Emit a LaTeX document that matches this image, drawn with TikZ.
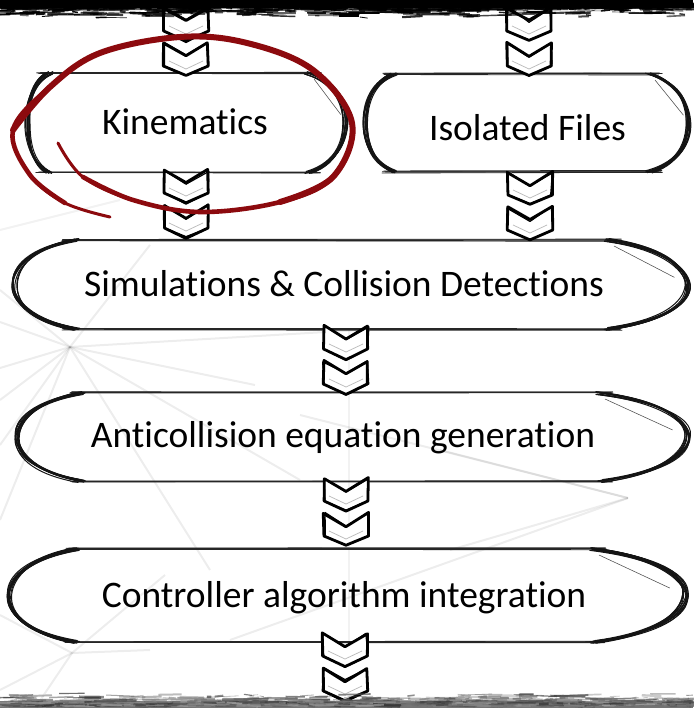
\documentclass[tikz,border=0pt]{standalone}
\usepackage{fontspec}
\setmainfont{Carlito}[Ligatures=NoCommon]
\usetikzlibrary{calc}
\definecolor{redink}{RGB}{140,10,14}
\tikzset{
  skline/.style={draw=black!85, line width=0.85pt, line cap=round},
  capline/.style={draw=black!92, line width=1pt, line cap=round},
  hatch/.style={draw=black!70, line width=0.55pt},
  chevline/.style={draw=black, line width=2.8pt, line join=round},
  chevthin/.style={draw=black, line width=1.2pt, line join=round},
  lbl/.style={font=\fontsize{37.5}{42}\selectfont, inner sep=0pt, anchor=base},
  bgline/.style={draw=black, opacity=0.07, line width=2pt},
  redstroke/.style={draw=redink, line cap=round, line join=round},
  chevpair/.pic={
    \foreach \o in {0,35}{
      \fill[white] (-23,\o) -- (0,\o+13) -- (23,\o) -- (23,\o+23) -- (0,\o+33) -- (-23,\o+23) -- cycle;
      \draw[gray!55, line width=0.7pt] (-17,\o+18) -- (0,\o+26) -- (17,\o+18);
      \draw[chevline] (-22+0.8*rand,\o+0.8*rand) -- (0,\o+13+rand) -- (22+0.8*rand,\o+0.8*rand)
        -- (22+0.8*rand,\o+23) -- (0,\o+33+0.8*rand) -- (-22+0.8*rand,\o+23) -- cycle;
      \draw[chevthin] (-22+1.5*rand,\o+1.5*rand) -- (0,\o+13+1.5*rand) -- (22+1.5*rand,\o+1.5*rand)
        -- (22+1.5*rand,\o+23) -- (0,\o+33+1.5*rand) -- (-22+1.5*rand,\o+23) -- cycle;
    }
  }
}
% sketchy pill: #1 left tip x, #2 left corner x, #3 right corner x, #4 right tip x, #5 top y, #6 bottom y
\newcommand{\skbox}[6]{%
  \pgfmathsetmacro{\skmid}{(#5+#6)/2}%
  \pgfmathsetmacro{\skh}{#6-#5}%
  \pgfmathsetmacro{\skdl}{#2-#1}%
  \pgfmathsetmacro{\skdr}{#4-#3}%
  \foreach \k in {1,...,4}{
    \pgfmathsetmacro{\ja}{1.1*rand}
    \pgfmathsetmacro{\jc}{1.1*rand}
    \draw[skline] (#2-7+3*rand,#5+\ja) -- (#3+7+3*rand,#5+\ja+0.6*rand);
    \draw[skline] (#2-7+3*rand,#6+\jc) -- (#3+7+3*rand,#6+\jc+0.6*rand);
  }
  \foreach \k in {1,...,12}{
    \pgfmathsetmacro{\ja}{1.5*rand}
    \pgfmathsetmacro{\jc}{1.5*rand}
    \pgfmathsetmacro{\jb}{3*rand+2.5}
    \pgfmathsetmacro{\jd}{3*rand+2.5}
    \pgfmathsetmacro{\my}{\skmid+4*rand}
    \draw[capline] (#2+4+4*rand,#5+\ja) .. controls (#2-0.75*\skdl+2*rand,#5+\ja+0.1*\skh) and (#1+\jb,\my-0.16*\skh) ..
      (#1+\jb,\my) .. controls (#1+\jb,\my+0.16*\skh) and (#2-0.75*\skdl+2*rand,#6+\jc-0.1*\skh) .. (#2+4+4*rand,#6+\jc);
    \pgfmathsetmacro{\my}{\skmid+4*rand}
    \draw[capline] (#3-4+4*rand,#5+\ja) .. controls (#3+0.75*\skdr+2*rand,#5+\ja+0.1*\skh) and (#4-\jd,\my-0.16*\skh) ..
      (#4-\jd,\my) .. controls (#4-\jd,\my+0.16*\skh) and (#3+0.75*\skdr+2*rand,#6+\jc-0.1*\skh) .. (#3-4+4*rand,#6+\jc);
  }
  \draw[hatch] (#3+2,#5+6) -- (#4-0.2*\skdr,\skmid-0.08*\skh);
}
\begin{document}
\begin{tikzpicture}[x=1pt,y=-1pt]
\pgfmathsetseed{7}
\useasboundingbox (0,0) rectangle (693,708);
\fill[white] (0,0) rectangle (693,708);

% faint background network
\coordinate (ha) at (70,347);
\coordinate (hb) at (628,498);
\coordinate (hc) at (72,653);
\foreach \p in {(0,290),(0,322),(0,368),(0,400),(0,445),(150,245),(255,385),(360,330),(300,480),(210,570),(0,520)}
  \draw[bgline] (ha) -- \p;
\foreach \p in {(440,450),(300,415),(450,550),(230,640)}
  \draw[bgline] (hb) -- \p;
\foreach \p in {(0,615),(0,690),(35,708),(165,575),(150,650)}
  \draw[bgline] (hc) -- \p;
\draw[bgline, opacity=0.05] (349,330) -- (349,650);
\draw[bgline, opacity=0.05] (0,230) -- (120,200);

% boxes
\skbox{25}{45}{312}{348}{73}{172}
\skbox{363}{390}{653}{691}{74}{172}
\skbox{12}{72}{612}{690}{240}{329}
\skbox{15}{78}{603}{690}{393}{481}
\skbox{7}{73}{597}{688}{549}{642}

% labels
\node[lbl] (kin) at (185,135) {Kinematics};
\node[lbl] (iso) at (527.5,141) {Isolated Files};
\node[lbl] (sim) at (344,296) {Simulations \& Collision Detections};
\node[lbl] (anti) at (343,447) {Anticollision equation generation};
\node[lbl] (ctrl) at (344,607) {Controller algorithm integration};

% chevron connectors
\pic at (186,8) {chevpair};
\pic at (529,8) {chevpair};
\pic at (186,170) {chevpair};
\pic at (530,172) {chevpair};
\pic at (346,326) {chevpair};
\pic at (346,478) {chevpair};
\pic at (345,633) {chevpair};

% grungy top band
\fill[black] (0,0) rectangle (693,8);
\foreach \i in {1,...,900}{
  \pgfmathsetmacro{\xx}{rnd*700-10}
  \pgfmathsetmacro{\yy}{4+14*rnd*rnd}
  \pgfmathsetmacro{\ll}{4+rnd*30}
  \pgfmathsetmacro{\op}{0.5+0.5*rnd}
  \pgfmathsetmacro{\lw}{0.5+2.4*rnd}
  \draw[black, opacity=\op, line width=\lw pt] (\xx,\yy) -- ++(\ll,1.2*rand);
}
% grungy bottom band
\fill[black!55] (0,701) rectangle (693,708);
\foreach \i in {1,...,900}{
  \pgfmathsetmacro{\xx}{rnd*700-10}
  \pgfmathsetmacro{\yy}{706-13*rnd*rnd}
  \pgfmathsetmacro{\ll}{4+rnd*30}
  \pgfmathsetmacro{\op}{0.35+0.5*rnd}
  \pgfmathsetmacro{\lw}{0.5+2*rnd}
  \pgfmathsetmacro{\gg}{35+45*rnd}
  \draw[black!\gg, opacity=\op, line width=\lw pt] (\xx,\yy) -- ++(\ll,1.2*rand);
}

% red hand-drawn ellipse around Kinematics
\draw[redstroke, line width=3pt] plot[smooth, tension=0.6] coordinates
  {(58,143) (83,177) (133,200) (200,212) (280,202) (333,177) (352,123) (313,70) (247,43) (180,37) (100,53) (50,87) (13,130) (30,175) (65,203) (110,217)};
\draw[redstroke, line width=4.6pt] plot[smooth, tension=0.6] coordinates
  {(83,177) (133,200) (200,212) (280,202) (333,177) (352,123) (313,70) (247,43) (180,37) (100,53) (50,87) (13,130) (30,175) (65,203)};
\draw[redstroke, line width=6pt] plot[smooth, tension=0.6] coordinates
  {(280,202) (333,177) (352,123) (313,70) (247,43) (180,37) (100,53) (50,87) (13,130)};
\end{tikzpicture}
\end{document}
